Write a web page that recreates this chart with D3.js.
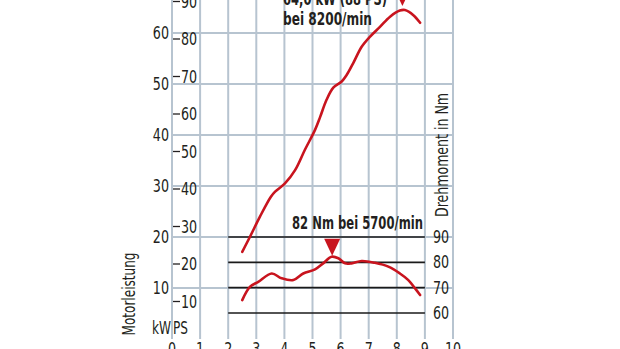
<!DOCTYPE html>
<html><head><meta charset="utf-8">
<script src="https://cdn.jsdelivr.net/npm/d3@7/dist/d3.min.js"></script>
<style>
html,body{margin:0;padding:0;background:#fff;}
svg{display:block;}
text{font-family:"Liberation Sans Narrow","DejaVu Sans Condensed","Arial Narrow",sans-serif;fill:#231f20;}
</style></head>
<body>
<svg id="c" width="620" height="349"></svg>
<script>
// Data
const rpmTicks = [0,1,2,3,4,5,6,7,8,9,10];
const kwTicks = [10,20,30,40,50,60];
const psTicks = [10,20,30,40,50,60,70,80,90];
const nmTicks = [60,70,80,90];
const powerRpm = [2.50,2.78,3.13,3.52,3.67,4.02,4.38,4.73,5.09,5.27,5.50,5.74,6.04,6.22,6.45,6.75,7.05,7.40,7.76,8.11,8.29,8.59,8.83];
const powerKw  = [17.1,20.1,24.0,27.9,28.9,30.5,33.1,37.1,41.0,43.5,46.9,49.3,50.5,51.8,54.1,57.3,59.3,61.2,63.2,64.4,64.5,63.5,62.0];
const torqueRpm = [2.50,2.78,3.07,3.55,3.90,4.32,4.67,5.09,5.38,5.68,5.92,6.16,6.39,6.75,7.22,7.70,8.11,8.41,8.65,8.83];
const torqueNm  = [65.1,70.4,72.3,75.6,73.7,73.0,75.6,77.2,79.6,82.2,81.6,79.6,79.6,80.5,79.8,78.3,75.6,73.0,69.7,67.1];
const powerPeak = {rpm:8.2, kw:64.5, label1:"64,0 kW (88 PS)", label2:"bei 8200/min"};
const torquePeak = {rpm:5.7, nm:82.2, label:"82 Nm bei 5700/min"};

const svg = d3.select("#c");
const x = d3.scaleLinear().domain([0,10]).range([172,453]);
const yKw = d3.scaleLinear().domain([0,60]).range([339,33]);
const yNm = d3.scaleLinear().domain([60,90]).range([313,237]);
const yPs = ps => yKw(ps/1.36);

const gridCol = "#b7c4d0";
const red = "#c8141e";

function squeeze(sel, f){
  sel.each(function(){
    const w = this.getComputedTextLength();
    d3.select(this).attr("textLength", w*f).attr("lengthAdjust","spacingAndGlyphs");
  });
}
function fitTo(sel, w){
  sel.attr("textLength", w).attr("lengthAdjust","spacingAndGlyphs");
}

// vertical grid
svg.append("g").selectAll("line").data(rpmTicks).join("line")
  .attr("x1",d=>x(d)).attr("x2",d=>x(d)).attr("y1",-5).attr("y2",339)
  .attr("stroke",gridCol).attr("stroke-width",2);
// horizontal grid (kW)
svg.append("g").selectAll("line").data(kwTicks.concat([70])).join("line")
  .attr("x1",x(0)).attr("x2",x(10)).attr("y1",d=>yKw(d)).attr("y2",d=>yKw(d))
  .attr("stroke",gridCol).attr("stroke-width",2);

// torque reference lines
svg.append("g").selectAll("line").data(nmTicks).join("line")
  .attr("x1",x(2)).attr("x2",x(9)).attr("y1",d=>yNm(d)).attr("y2",d=>yNm(d))
  .attr("stroke","#1a1a1a").attr("stroke-width",1.6);

// x labels
svg.append("g").selectAll("text").data(rpmTicks).join("text")
  .attr("x",d=>x(d)).attr("y",355).attr("text-anchor","middle")
  .attr("font-size",17).text(d=>d).call(squeeze,0.83);

// kW labels
svg.append("g").selectAll("text").data(kwTicks).join("text")
  .attr("x",169).attr("y",d=>yKw(d)+6).attr("text-anchor","end")
  .attr("font-size",17).text(d=>d).call(squeeze,0.83);

// PS ticks + labels
const psG = svg.append("g").selectAll("g").data(psTicks).join("g");
psG.append("line").attr("x1",173).attr("x2",180).attr("y1",d=>yPs(d)).attr("y2",d=>yPs(d))
  .attr("stroke","#231f20").attr("stroke-width",1.3);
psG.append("text").attr("x",181).attr("y",d=>yPs(d)+6).attr("font-size",17).text(d=>d).call(squeeze,0.83);

// Nm labels
svg.append("g").selectAll("text").data(nmTicks).join("text")
  .attr("x",433).attr("y",d=>yNm(d)+6).attr("font-size",17).text(d=>d).call(squeeze,0.83);

// unit labels
svg.append("text").attr("x",171).attr("y",334).attr("text-anchor","end").attr("font-size",17).text("kW").call(fitTo,19);
svg.append("text").attr("x",173).attr("y",334).attr("font-size",17).text("PS").call(fitTo,15);
svg.append("text").attr("transform","translate(135,294) rotate(-90)").attr("text-anchor","middle")
  .attr("font-size",18).text("Motorleistung").call(fitTo,83);
svg.append("text").attr("transform","translate(448,155) rotate(-90)").attr("text-anchor","middle")
  .attr("font-size",18).text("Drehmoment in Nm").call(fitTo,124);

// curves
const line = d3.line().curve(d3.curveCatmullRom.alpha(0.5));
svg.append("path").attr("d",line(powerRpm.map((r,i)=>[x(r),yKw(powerKw[i])])))
  .attr("fill","none").attr("stroke",red).attr("stroke-width",2.6).attr("stroke-linecap","round");
svg.append("path").attr("d",line(torqueRpm.map((r,i)=>[x(r),yNm(torqueNm[i])])))
  .attr("fill","none").attr("stroke",red).attr("stroke-width",2.6).attr("stroke-linecap","round");

// markers
function tri(cx, tipY){
  svg.append("path").attr("d",`M${cx-8},${tipY-17}L${cx+8},${tipY-17}L${cx},${tipY}Z`).attr("fill",red);
}
tri(x(powerPeak.rpm), yKw(powerPeak.kw)-4);
tri(x(torquePeak.rpm), yNm(torquePeak.nm)-1);

// annotations
svg.append("text").attr("x",283).attr("y",5).attr("font-size",17).attr("font-weight","bold").text(powerPeak.label1).call(fitTo,104);
svg.append("text").attr("x",283).attr("y",25).attr("font-size",17).attr("font-weight","bold").text(powerPeak.label2).call(fitTo,89);
svg.append("text").attr("x",292).attr("y",229).attr("font-size",17).attr("font-weight","bold").text(torquePeak.label).call(fitTo,131);
</script>
</body></html>
